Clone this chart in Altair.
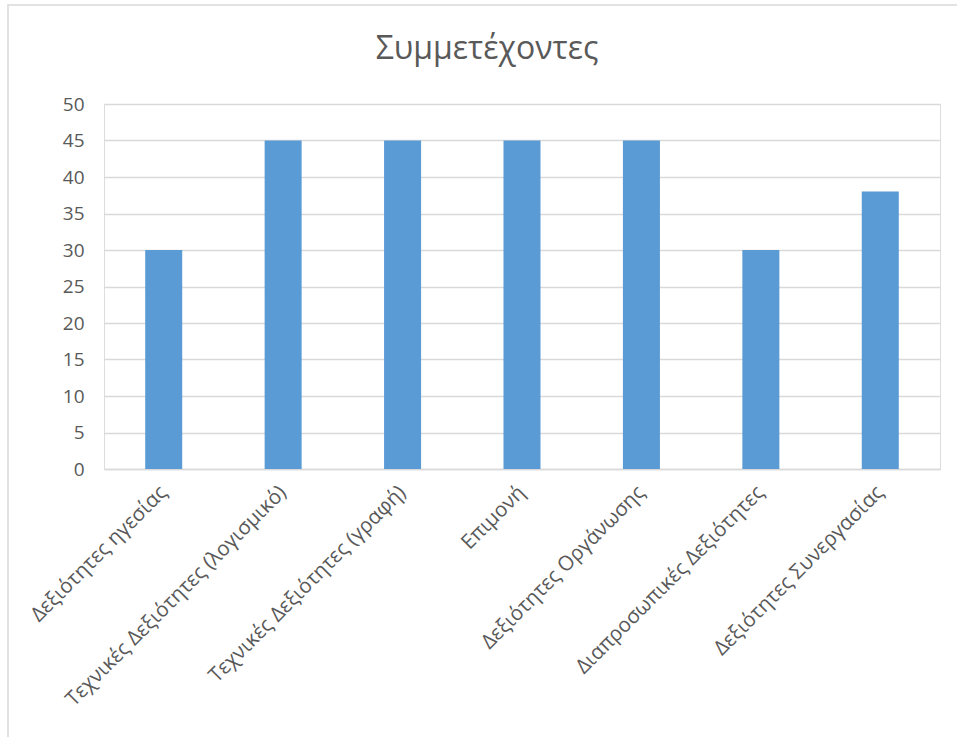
import altair as alt
import pandas as pd

# Skill categories and number of participants
categories = [
    "Δεξιότητες ηγεσίας",
    "Τεχνικές Δεξιότητες (λογισμικό)",
    "Τεχνικές Δεξιότητες (γραφή)",
    "Επιμονή",
    "Δεξιότητες Οργάνωσης",
    "Διαπροσωπικές Δεξιότητες",
    "Δεξιότητες Συνεργασίας",
]
participants = [30, 45, 45, 45, 45, 30, 38]
y_ticks = list(range(0, 51, 5))

df = pd.DataFrame({"category": categories, "value": participants})

FONT = "Open Sans"
TEXT_COLOR = "#595959"
GRID_COLOR = "#d9d9d9"

bars = alt.Chart(df).mark_bar(color="#5B9BD5").encode(
    x=alt.X(
        "category:N",
        sort=categories,
        title=None,
        scale=alt.Scale(paddingInner=0.69, paddingOuter=0.345),
        axis=alt.Axis(
            labelAngle=-45,
            labelAlign="right",
            labelBaseline="middle",
            labelPadding=20,
            labelFontSize=20.5,
            labelFont=FONT,
            labelColor=TEXT_COLOR,
            labelLimit=0,
            ticks=False,
            domainColor=GRID_COLOR,
            domainWidth=1.5,
            grid=False,
        ),
    ),
    y=alt.Y(
        "value:Q",
        title=None,
        scale=alt.Scale(domain=[0, 50], nice=False),
        axis=alt.Axis(
            values=y_ticks,
            labelFontSize=19,
            labelFont=FONT,
            labelColor=TEXT_COLOR,
            labelPadding=20,
            ticks=False,
            domain=False,
            gridColor=GRID_COLOR,
            gridWidth=1.3,
        ),
    ),
)

# Chart-area frame; only its left and top edges fall inside the page
frame = alt.Chart(df.head(1)).mark_rect(
    fill="transparent", stroke=GRID_COLOR, strokeWidth=1.5
).encode(
    x=alt.value(-96), x2=alt.value(900), y=alt.value(-99), y2=alt.value(700)
)

chart = (
    alt.layer(frame, bars)
    .properties(
        width=836,
        height=365,
        title=alt.TitleParams(
            "Συμμετέχοντες",
            font=FONT,
            fontSize=32,
            fontWeight="normal",
            color=TEXT_COLOR,
            anchor="middle",
            frame="group",
            baseline="alphabetic",
            dx=-35,
            dy=87,
            offset=0,
        ),
        autosize=alt.AutoSizeParams(type="none"),
        padding={"left": 104, "top": 104, "right": 17, "bottom": 268},
    )
    .configure_view(stroke=None, strokeWidth=0, strokeOpacity=0)
    .configure_axisX(grid=False)
    .configure(background="white")
)

chart.save("out.html", embed_options={"renderer": "svg", "actions": False})
